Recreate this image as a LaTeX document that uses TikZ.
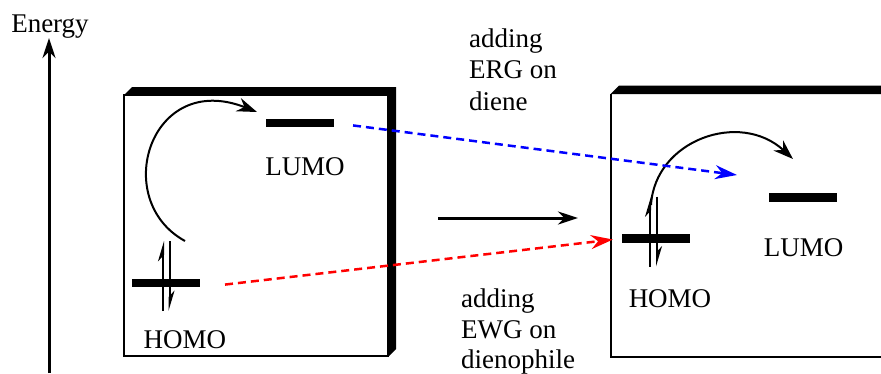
\documentclass[tikz,border=0pt]{standalone}
\usepackage{fontspec}
\setmainfont{Liberation Serif}
\usetikzlibrary{arrows.meta}
\tikzset{
	lbl/.style = {font=\rmfamily\fontsize{27}{31}\selectfont, inner sep=0pt},
	note/.style = {lbl, anchor=base west},
	orb/.style = {fill=black, minimum width=68pt, minimum height=8.5pt, inner sep=0pt},
	spin/.style = {line width=2pt, -{Stealth[left,length=17pt,width=10pt]}},
	hop/.style = {line width=2pt, -{Stealth[length=20pt,width=14pt]}},
	subst/.style = {line width=2.5pt, dash pattern=on 8pt off 5pt, -{Stealth[length=22pt,width=14pt]}}
}

\begin{document}
\begin{tikzpicture}[x=1pt, y=-1pt, >={Stealth[length=20pt,width=13pt]}]
	\useasboundingbox (0,0) rectangle (881,373);
	% energy axis
	\coordinate (e0) at (49,373);
	\coordinate (e1) at (49,38);
	\draw[->, line width=3pt] (e0) -- (e1);
	\node[lbl, anchor=base] (energy) at (50,32) {Energy};
	% left box (diene / dienophile before)
	\fill (124,95) -- (132,87) -- (396,87) -- (396,349) -- (388,357) -- (388,95) -- cycle;
	\draw[line width=2pt] (124,95) rectangle (388,356);
	% right box
	\fill (610.5,94) -- (619,85.5) -- (890,85.5) -- (890,94) -- cycle;
	\draw[line width=2pt] (610.5,94) -- (610.5,357) -- (890,357);
	% orbitals
	\node[orb] (lumoA) at (300,123) {};
	\node[orb] (homoA) at (166,283) {};
	\node[orb] (homoB) at (656,238.5) {};
	\node[orb] (lumoB) at (803,197.5) {};
	\node[lbl, anchor=base] (lumoAt) at (305,175) {LUMO};
	\node[lbl, anchor=base] (homoAt) at (185,348) {HOMO};
	\node[lbl, anchor=base] (homoBt) at (670,307) {HOMO};
	\node[lbl, anchor=base] (lumoBt) at (803.5,256) {LUMO};
	% electron pairs
	\draw[spin] ([xshift=-3pt, yshift=-28pt]homoA.center) -- ([xshift=-3pt, yshift=42pt]homoA.center);
	\draw[spin] ([xshift=3.5pt, yshift=42pt]homoA.center) -- ([xshift=3.5pt, yshift=-28pt]homoA.center);
	\draw[spin] ([xshift=-6pt, yshift=-28pt]homoB.center) -- ([xshift=-6pt, yshift=42pt]homoB.center);
	\draw[spin] ([xshift=1pt, yshift=42pt]homoB.center) -- ([xshift=1pt, yshift=-28pt]homoB.center);
	% excitation arcs
	\coordinate (a0) at (185,241);
	\coordinate (a1) at (257,112);
	\coordinate (b0) at (651,205);
	\coordinate (b1) at (793,159);
	\draw[hop] (a0) .. controls (110,200) and (150,70) .. (a1);
	\draw[hop] (b0) .. controls (655,140) and (740,110) .. (b1);
	% substituent effects
	\coordinate (ergtip) at (737,175);
	\draw[subst, blue, shorten <=19pt] (lumoA.east) -- (ergtip);
	\draw[subst, red, shorten <=25pt, shorten >=9pt] (homoA.south east) -- (homoB.west);
	\node[note] (erg1) at (469,47) {adding};
	\node[note] (erg2) at (469,78) {ERG on};
	\node[note] (erg3) at (469,110) {diene};
	\node[note] (ewg1) at (461,307) {adding};
	\node[note] (ewg2) at (461,338) {EWG on};
	\node[note] (ewg3) at (461,368) {dienophile};
	% reaction arrow
	\coordinate (r0) at (438,218);
	\coordinate (r1) at (578,218);
	\draw[->, line width=3pt] (r0) -- (r1);
\end{tikzpicture}
\end{document}
